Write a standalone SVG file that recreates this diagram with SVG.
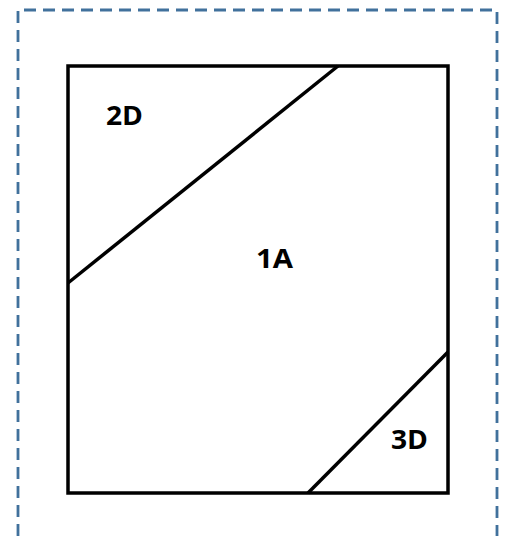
<svg xmlns="http://www.w3.org/2000/svg" width="506" height="536" viewBox="0 0 506 536">
<style>
.frame{fill:none;stroke:#41719C;stroke-width:2.8;stroke-dasharray:12 7}
.edge{fill:none;stroke:#000;stroke-width:3.5;stroke-linecap:butt}
.lbl{font-family:"Open Sans","Liberation Sans",sans-serif;font-weight:bold;font-size:26px;fill:#000}
</style>
<rect width="506" height="536" fill="#fff"/>
<path class="frame" d="M18,536 V10 H497 V536"/>
<g id="outline">
<rect class="edge" x="68" y="66" width="380" height="427"/>
</g>
<g id="connectors">
<line class="edge" x1="338" y1="66" x2="68" y2="283"/>
<line class="edge" x1="448" y1="352" x2="308" y2="493"/>
</g>
<g id="node-2D"><text class="lbl" x="106" y="124.5" textLength="37" lengthAdjust="spacingAndGlyphs">2D</text></g>
<g id="node-1A"><text class="lbl" x="256" y="267.5" textLength="37" lengthAdjust="spacingAndGlyphs">1A</text></g>
<g id="node-3D"><text class="lbl" x="391" y="449" textLength="37" lengthAdjust="spacingAndGlyphs">3D</text></g>
</svg>
